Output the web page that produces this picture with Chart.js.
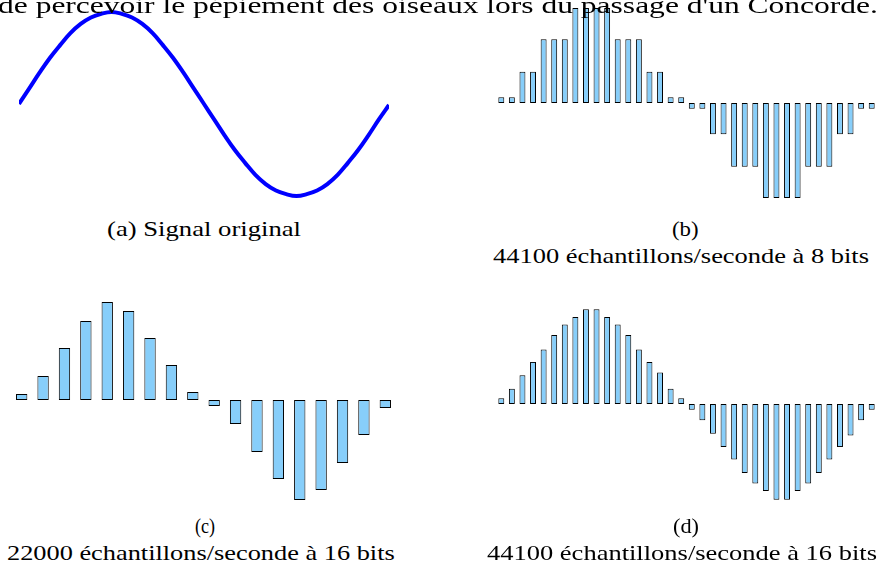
<!DOCTYPE html>
<html>
<head>
<meta charset="utf-8">
<script src="https://cdn.jsdelivr.net/npm/chart.js@4.4.1/dist/chart.umd.min.js"></script>
<style>
  html, body { margin: 0; padding: 0; background: #fff; }
  body { width: 882px; height: 571px; position: relative; overflow: hidden; }
  canvas { position: absolute; }
  .t { position: absolute; white-space: nowrap; font-family: "Liberation Serif", "DejaVu Serif", serif;
       color: #000; transform-origin: 0 0; display: inline-block; }
</style>
</head>
<body>
<canvas id="ca" width="390" height="200" style="left:9px; top:4px;"></canvas>
<canvas id="cb" width="381" height="206" style="left:496px; top:0px;"></canvas>
<canvas id="cc" width="385" height="220" style="left:11px; top:290px;"></canvas>
<canvas id="cd" width="381" height="220" style="left:496px; top:294px;"></canvas>
<script>
// ---- Data ----
// (a) original signal: phase in degrees and amplitude
const sineAngles = [0,10,20,30,40,50,60,70,80,90,100,110,120,130,140,150,160,170,180,
                    190,200,210,220,230,240,250,260,270,280,290,300,310,320,330,340,350,360];
const sineValues = [0.00,0.17,0.34,0.50,0.64,0.77,0.87,0.94,0.98,1.00,0.98,0.94,0.87,0.77,0.64,0.50,0.34,0.17,0.00,
                    -0.17,-0.34,-0.50,-0.64,-0.77,-0.87,-0.94,-0.98,-1.00,-0.98,-0.94,-0.87,-0.77,-0.64,-0.50,-0.34,-0.17,-0.01];

// (b) 44100 samples/s at 8 bits (coarse levels)
const samplesB = [0.06,0.06,0.33,0.33,0.67,0.67,0.67,1.00,1.00,1.00,1.00,0.67,0.67,0.67,0.33,0.33,0.06,0.06,
                  -0.06,-0.06,-0.33,-0.33,-0.67,-0.67,-0.67,-1.00,-1.00,-1.00,-1.00,-0.67,-0.67,-0.67,-0.33,-0.33,-0.06,-0.06];

// (c) 22000 samples/s at 16 bits
const samplesC = [0.06,0.24,0.52,0.79,0.98,0.89,0.62,0.35,0.08,
                  -0.06,-0.24,-0.52,-0.79,-1.00,-0.90,-0.63,-0.35,-0.08];

// (d) 44100 samples/s at 16 bits
const samplesD = [0.06,0.16,0.30,0.44,0.57,0.72,0.83,0.91,0.99,0.99,0.91,0.83,0.72,0.57,0.44,0.33,0.16,0.06,
                  -0.06,-0.17,-0.31,-0.45,-0.58,-0.72,-0.83,-0.91,-1.00,-1.00,-0.91,-0.83,-0.72,-0.58,-0.45,-0.33,-0.17,-0.06];

// sample index categories
const indexB = samplesB.map((_, i) => String(i + 1));
const indexC = samplesC.map((_, i) => String(i + 1));
const indexD = samplesD.map((_, i) => String(i + 1));

// ---- Texts ----
const titleText = "de percevoir le pépiement des oiseaux lors du passage d'un Concorde.";
const captionA = "(a) Signal original";
const captionB = ["(b)", "44100 échantillons/seconde à 8 bits"];
const captionC = ["(c)", "22000 échantillons/seconde à 16 bits"];
const captionD = ["(d)", "44100 échantillons/seconde à 16 bits"];

// ---- Charts ----
Chart.defaults.animation = false;
const common = {
  responsive: false,
  animation: false,
  events: [],
  plugins: { legend: { display: false }, tooltip: { enabled: false }, title: { display: false } }
};

new Chart(document.getElementById('ca'), {
  type: 'line',
  data: {
    datasets: [{
      data: sineAngles.map((a, i) => ({ x: a, y: sineValues[i] })),
      borderColor: 'rgb(0,0,255)',
      borderWidth: 4,
      pointRadius: 0,
      tension: 0.4,
      fill: false
    }]
  },
  options: Object.assign({}, common, {
    layout: { padding: { left: 10, right: 10, top: 0, bottom: 0 } },
    scales: {
      x: { type: 'linear', min: 0, max: 360, display: false },
      y: { min: -100 / 92, max: 100 / 92, display: false }
    }
  })
});

function barChart(id, labels, values, halfRange, barPct) {
  return new Chart(document.getElementById(id), {
    type: 'bar',
    data: {
      labels: labels,
      datasets: [{
        data: values,
        backgroundColor: 'rgb(135,206,250)',
        borderColor: '#000',
        borderWidth: 1,
        borderSkipped: false,
        barPercentage: barPct,
        categoryPercentage: 1.0
      }]
    },
    options: Object.assign({}, common, {
      layout: { padding: 0 },
      scales: {
        x: { display: false, offset: true },
        y: { min: -halfRange, max: halfRange, display: false }
      }
    })
  });
}
barChart('cb', indexB, samplesB, 103 / 95, 0.56);
barChart('cc', indexC, samplesC, 1.1, 0.53);
barChart('cd', indexD, samplesD, 110 / 95.7, 0.56);

// ---- Text placement (real HTML text) ----
function place(text, left, right, baseline, size) {
  const d = document.createElement('div');
  d.className = 't';
  d.textContent = text;
  d.style.fontSize = size + 'px';
  d.style.lineHeight = size + 'px';
  d.style.left = '0px';
  d.style.top = '0px';
  document.body.appendChild(d);
  const w = d.getBoundingClientRect().width;
  const k = (right - left) / w;
  d.style.left = left + 'px';
  d.style.top = (baseline - 0.8375 * size) + 'px';
  d.style.transform = 'scaleX(' + k + ')';
}
place(titleText, -2, 878, 13.3, 24);
place(captionA, 106.7, 300.7, 236, 22);
place(captionB[0], 671.7, 698.3, 236.5, 22);
place(captionB[1], 493.3, 869.3, 263.3, 22);
place(captionC[0], 195, 215, 533.3, 22);
place(captionC[1], 7.3, 395, 560, 22);
place(captionD[0], 673, 699, 533.3, 22);
place(captionD[1], 487, 877, 560, 22);
</script>
</body>
</html>
